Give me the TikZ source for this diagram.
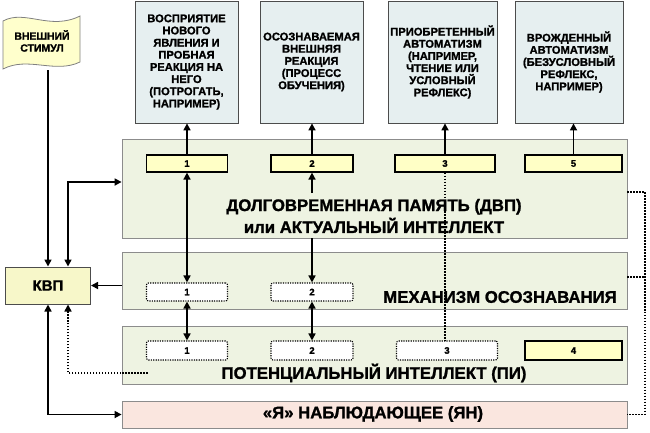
\documentclass[tikz,border=0pt]{standalone}
\usepackage{fontspec}
\setmainfont{Liberation Sans}[BoldFeatures={FakeBold=1.3}]
\usetikzlibrary{arrows.meta}
\definecolor{boxblue}{HTML}{E6EFF0}
\definecolor{panelgreen}{HTML}{EEF3E2}
\definecolor{slotyellow}{HTML}{FFFFC6}
\definecolor{kvpyellow}{HTML}{F7F7C9}
\definecolor{yanpink}{HTML}{FAE6DF}
\definecolor{flagyellow}{HTML}{FFFFCC}
\tikzset{
  topbox/.style={draw=black!70, line width=0.8pt, fill=boxblue, minimum height=122bp, inner sep=0pt, align=center, font=\fontsize{11.2}{12.2}\selectfont\bfseries},
  panel/.style={draw=black!45, line width=0.8pt, fill=panelgreen, minimum width=505bp, inner sep=0pt},
  slot/.style={draw, line width=1.2pt, fill=slotyellow, minimum height=17bp, inner sep=0pt, font=\fontsize{9.5}{10}\selectfont\bfseries},
  ghost/.style={draw, line width=1.1pt, dash pattern=on 1.2pt off 1.2pt, rounded corners=2pt, fill=white, minimum height=18bp, inner sep=0pt, font=\fontsize{9.5}{10}\selectfont\bfseries},
  big/.style={font=\fontsize{16.8}{22}\selectfont\bfseries, align=center, inner sep=0pt},
  link/.style={line width=1.6pt},
  hint/.style={line width=1.6pt, dash pattern=on 1.6pt off 1.4pt}
}
\begin{document}
\begin{tikzpicture}[x=1bp, y=-1bp, >={Triangle[length=7bp,width=7bp]}]
                \useasboundingbox (0,0) rectangle (650,432);
                \draw[draw=black!50, line width=0.8pt, fill=flagyellow] (3,21) .. controls (25,9) and (50,31) .. (80,16) -- (80,62) .. controls (55,74) and (28,56) .. (3,69) -- cycle;
                \node[font=\fontsize{10.5}{12}\selectfont\bfseries, align=center] (stim) at (42,41) {ВНЕШНИЙ\\СТИМУЛ};
                \node[topbox, minimum width=103bp] (t1) at (186.5,62) {ВОСПРИЯТИЕ\\НОВОГО\\ЯВЛЕНИЯ И\\ПРОБНАЯ\\РЕАКЦИЯ НА\\НЕГО\\(ПОТРОГАТЬ,\\НАПРИМЕР)};
                \node[topbox, minimum width=103bp] (t2) at (311.5,62) {ОСОЗНАВАЕМАЯ\\ВНЕШНЯЯ\\РЕАКЦИЯ\\(ПРОЦЕСС\\ОБУЧЕНИЯ)};
                \node[topbox, minimum width=109bp] (t3) at (442.5,62) {ПРИОБРЕТЕННЫЙ\\АВТОМАТИЗМ\\(НАПРИМЕР,\\ЧТЕНИЕ ИЛИ\\УСЛОВНЫЙ\\РЕФЛЕКС)};
                \node[topbox, minimum width=108bp] (t4) at (569,62) {ВРОЖДЕННЫЙ\\АВТОМАТИЗМ\\(БЕЗУСЛОВНЫЙ\\РЕФЛЕКС,\\НАПРИМЕР)};
                \node[panel, minimum height=99bp] (dvp) at (374.5,188.5) {};
                \node[panel, minimum height=57bp] (mech) at (374.5,280.5) {};
                \node[panel, minimum height=58bp] (pi) at (374.5,355) {};
                \node[panel, minimum height=27bp, fill=yanpink] (yan) at (374.5,414.5) {};
                \node[draw=black!70, line width=1pt, fill=kvpyellow, minimum width=85bp, minimum height=37bp, font=\fontsize{15}{16}\selectfont\bfseries] (kvp) at (48,285.5) {КВП};
                \node[slot, minimum width=81bp] (s1) at (187,163.5) {1};
                \node[slot, minimum width=82bp] (s2) at (312,163.5) {2};
                \node[slot, minimum width=100bp] (s3) at (445,163.5) {3};
                \node[slot, minimum width=97bp] (s5) at (573.5,163.5) {5};
                \node[ghost, minimum width=81bp] (m1) at (187,292) {1};
                \node[ghost, minimum width=82bp] (m2) at (312,292) {2};
                \node[ghost, minimum width=81bp, minimum height=19bp] (p1) at (187,350.5) {1};
                \node[ghost, minimum width=82bp, minimum height=19bp] (p2) at (312,350.5) {2};
                \node[ghost, minimum width=101bp, minimum height=19bp] (p3) at (447,350.5) {3};
                \node[slot, minimum width=97bp, minimum height=19bp] (p4) at (573.5,350.5) {4};
                \node[big] (dvptext) at (374,216) {ДОЛГОВРЕМЕННАЯ ПАМЯТЬ (ДВП)\\или АКТУАЛЬНЫЙ ИНТЕЛЛЕКТ};
                \node[big] (mechtext) at (500,297) {МЕХАНИЗМ ОСОЗНАВАНИЯ};
                \node[big] (pitext) at (374,373) {ПОТЕНЦИАЛЬНЫЙ ИНТЕЛЛЕКТ (ПИ)};
                \node[big] (yantext) at (373,414) {«Я» НАБЛЮДАЮЩЕЕ (ЯН)};
                \coordinate (flagfoot) at (48,70);
                \coordinate (bend) at (68,182);
                \coordinate (pifoot) at (148,373);
                \coordinate (s2tail) at (312,193);
                \coordinate (rim) at (645,192);
                \coordinate (rim2) at (645,277);
                \draw[link,->] (flagfoot) -- (kvp.north);
                \draw[link,<->] (bend -| dvp.west) -- (bend) -- (bend |- kvp.north);
                \draw[link,->] (mech.west |- kvp.east) -- (kvp.east);
                \draw[link,<->] (kvp.south) -- (kvp.south |- yan.west) -- (yan.west);
                \draw[hint,->] (pifoot) -- (pifoot -| bend) -- (bend |- kvp.south);
                \draw[link,->] (s1.north) -- (s1.north |- t1.south);
                \draw[link,->] (s2.north) -- (s2.north |- t2.south);
                \draw[link,->] (s3.north) -- (s3.north |- t3.south);
                \draw[link,->] (s5.north) -- (s5.north |- t4.south);
                \draw[link,<->] (s1.south) -- (m1.north);
                \draw[link,<->] (m1.south) -- (p1.north);
                \draw[link,->] (s2tail) -- (s2.south);
                \draw[link,->] (s2.south |- dvp.south) -- (m2.north);
                \draw[link,<->] (m2.south) -- (p2.north);
                \draw[hint] (s3.south) -- (s3.south |- p3.north);
                \draw[hint] (dvp.east |- rim) -- (rim) -- (rim |- yan.east) -- (yan.east);
                \draw[hint] (mech.east |- rim2) -- (rim2);
\end{tikzpicture}
\end{document}
